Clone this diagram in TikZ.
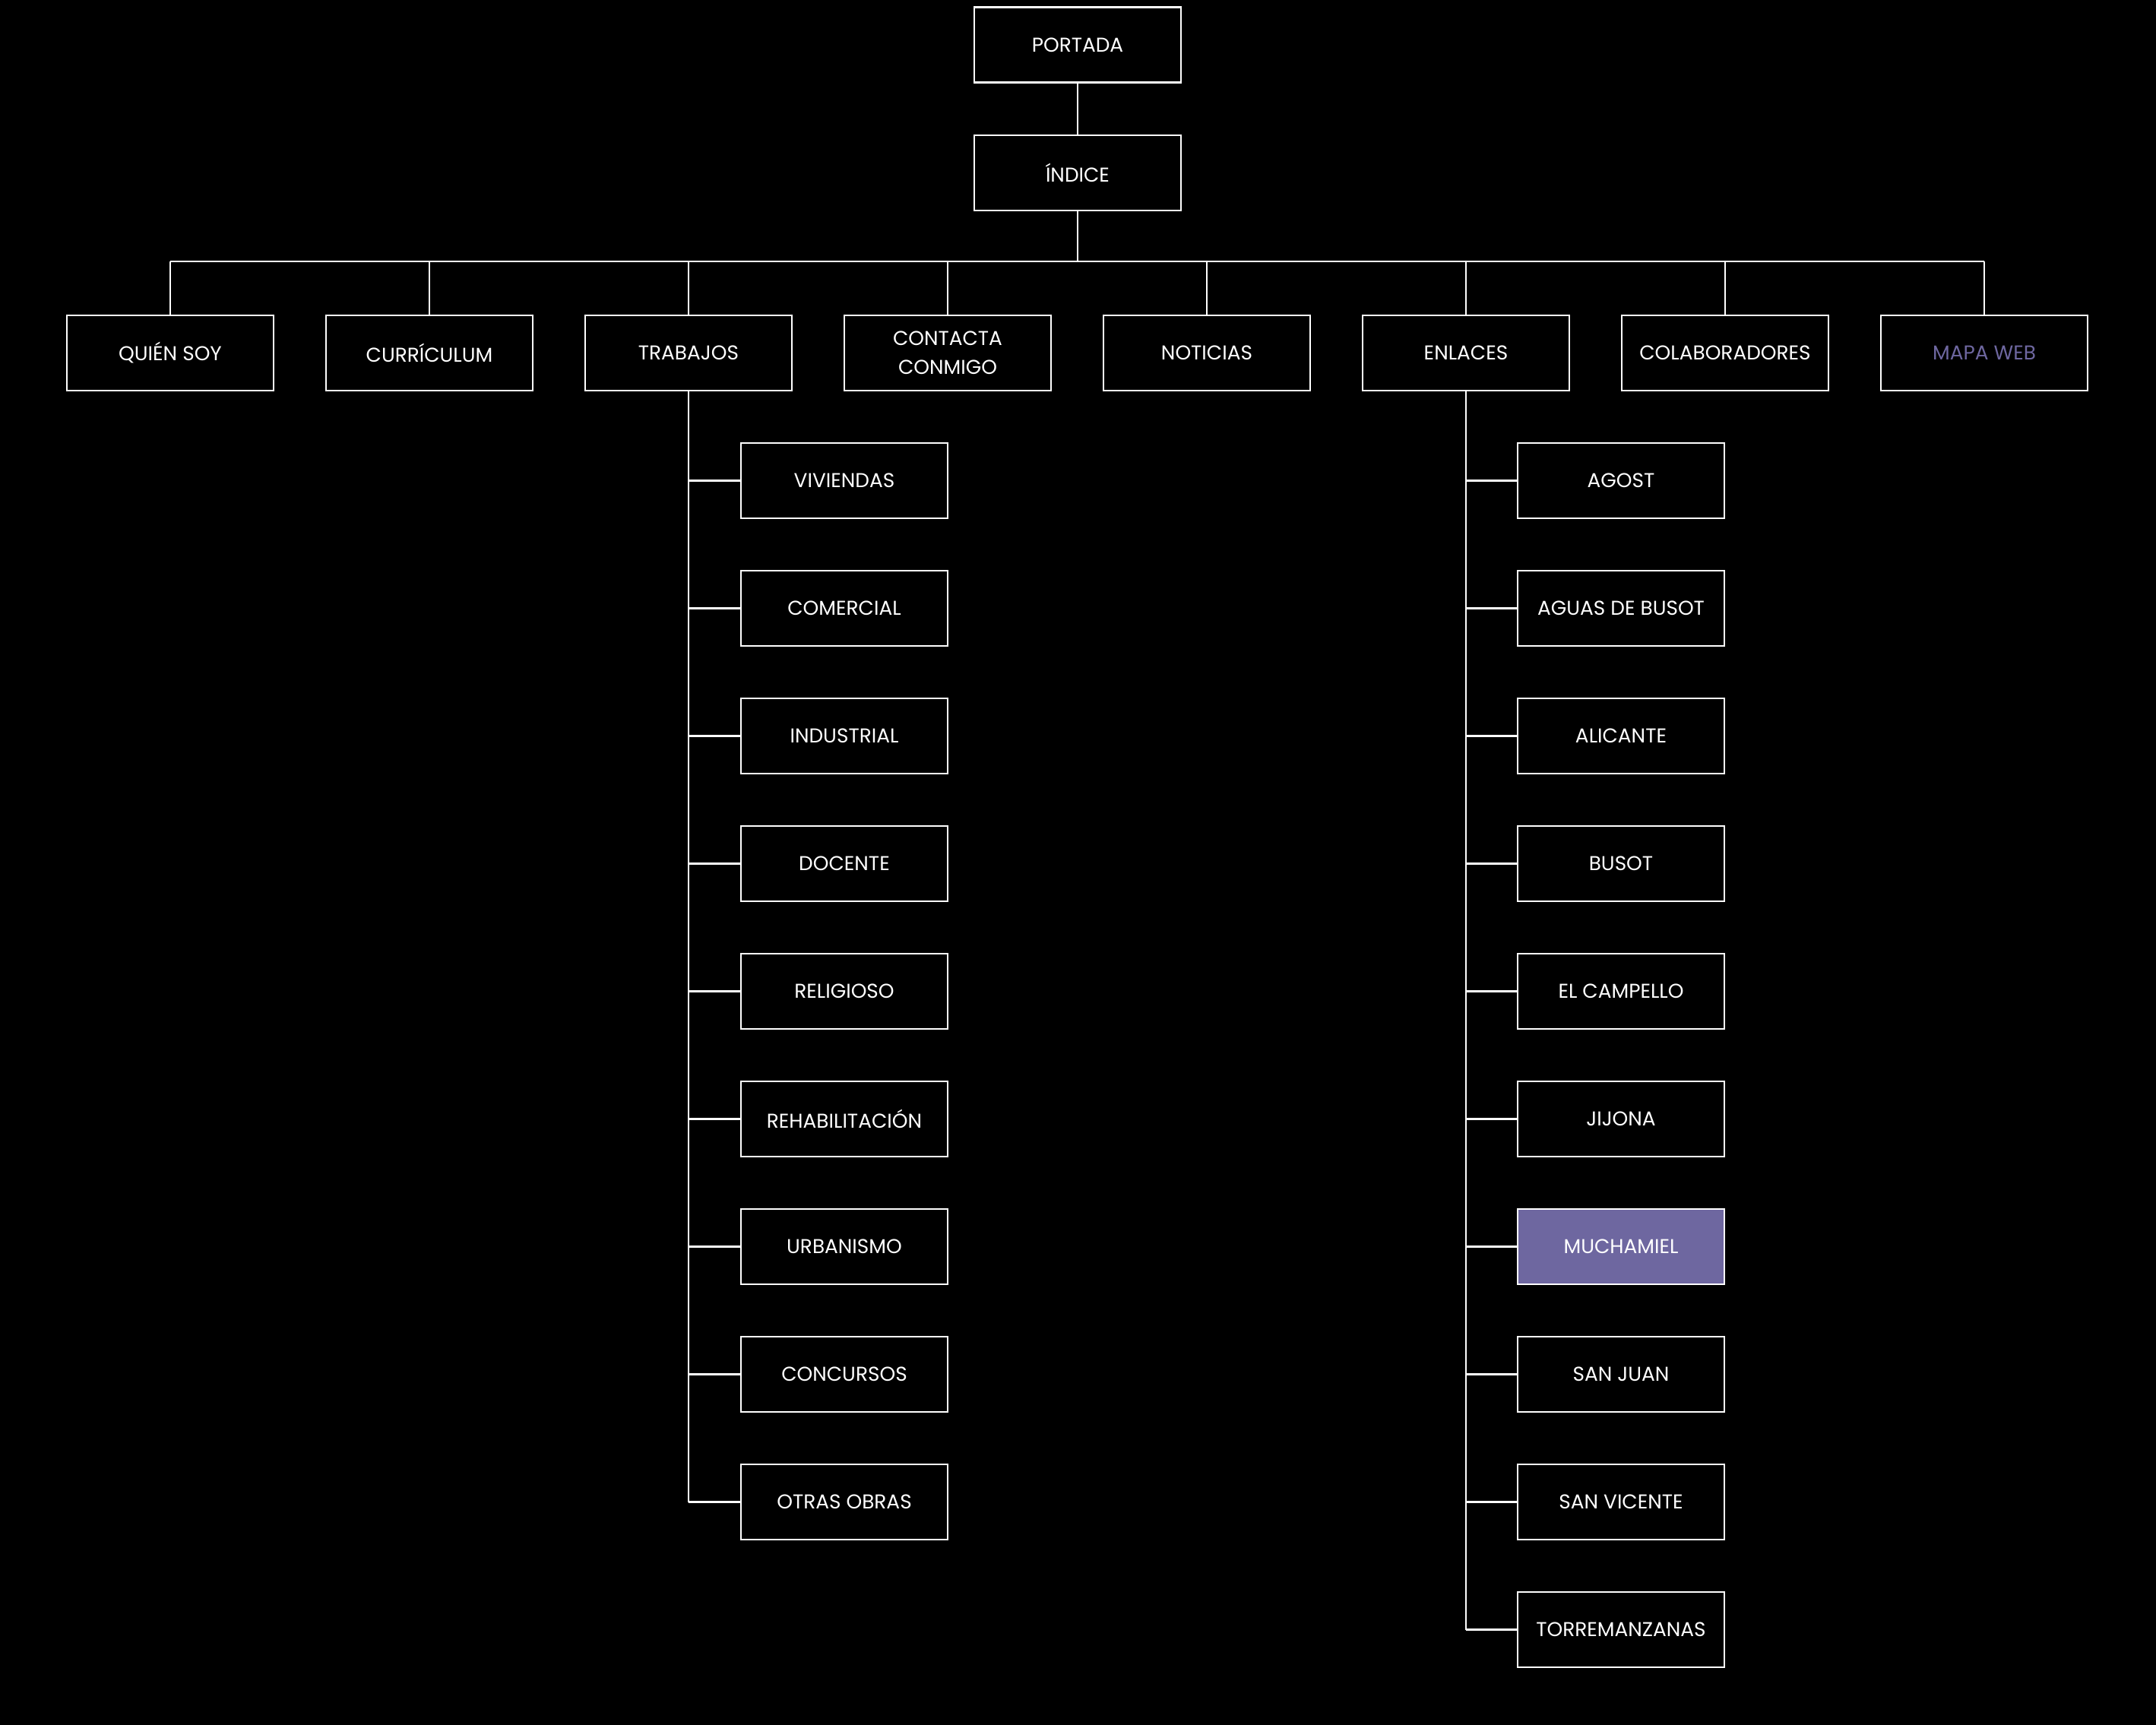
\documentclass[tikz,border=0pt]{standalone}
\usepackage{fontspec}
\setmainfont{Poppins}
\usepackage{tikz}
\usetikzlibrary{positioning}
\definecolor{webpurple}{RGB}{110,103,160}
\tikzset{
  pagebox/.style={draw=white, line width=0.6pt, fill=black, text=white,
    minimum width=2.72cm, minimum height=0.99cm, inner sep=0pt, align=center,
    font=\fontsize{7.5}{10.8}\selectfont},
  link/.style={draw=white, line width=0.6pt}
}
\begin{document}
\begin{tikzpicture}
    \fill[black] (0,0) rectangle (28.37,-22.70);
    % top of the tree
    \node[pagebox] (portada) at (14.18,-0.59)  {PORTADA};
    \node[pagebox] (indice)  at (14.18,-2.275) {ÍNDICE};
    \draw[link] (portada) -- (indice);
    % main sections
    \coordinate (bus) at (14.18,-3.44);
    \foreach \name/\label [count=\i from 0] in {quien/QUIÉN SOY, curriculum/CURRÍCULUM,
        trabajos/TRABAJOS, contacta/{CONTACTA\\CONMIGO}, noticias/NOTICIAS,
        enlaces/ENLACES, colaboradores/COLABORADORES}{
      \node[pagebox] (\name) at (2.24+3.41*\i,-4.645) {\label};
    }
    \node[pagebox, text=webpurple] (mapa) at (26.11,-4.645) {MAPA WEB};
    \draw[link] (indice) -- (indice |- bus);
    \draw[link] (quien |- bus) -- (mapa |- bus);
    \foreach \name in {quien,curriculum,trabajos,contacta,noticias,enlaces,colaboradores,mapa}{
      \draw[link] (\name |- bus) -- (\name);
    }
    % trabajos
    \foreach \label [count=\i] in {VIVIENDAS, COMERCIAL, INDUSTRIAL, DOCENTE, RELIGIOSO,
        REHABILITACIÓN, URBANISMO, CONCURSOS, OTRAS OBRAS}{
      \node[pagebox] (t\i) at (11.11,-6.325-1.68*\i+1.68) {\label};
      \draw[link] (trabajos |- t\i) -- (t\i);
    }
    \draw[link] (trabajos) -- (trabajos |- t9);
    % enlaces (muchamiel is the highlighted one)
    \foreach \label [count=\i] in {AGOST, AGUAS DE BUSOT, ALICANTE, BUSOT, EL CAMPELLO,
        JIJONA, MUCHAMIEL, SAN JUAN, SAN VICENTE, TORREMANZANAS}{
      \ifnum\i=7 \def\boxfill{webpurple}\else \def\boxfill{black}\fi
      \node[pagebox, fill=\boxfill] (e\i) at (21.33,-6.325-1.68*\i+1.68) {\label};
      \draw[link] (enlaces |- e\i) -- (e\i);
    }
    \draw[link] (enlaces) -- (enlaces |- e10);
\end{tikzpicture}
\end{document}
